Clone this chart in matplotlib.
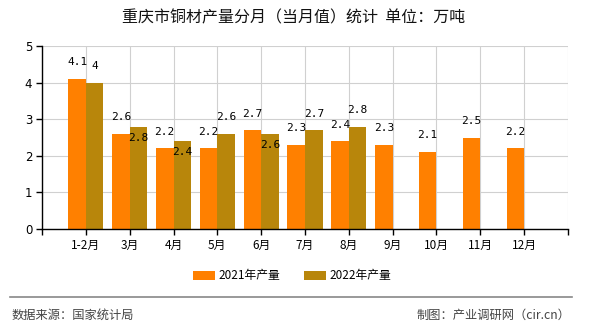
import matplotlib.pyplot as plt
import numpy as np

plt.rcParams['font.family'] = ['Noto Sans CJK SC', 'DejaVu Sans']

months = ["1-2月", "3月", "4月", "5月", "6月", "7月", "8月", "9月", "10月", "11月", "12月"]
prod_2021 = [4.1, 2.6, 2.2, 2.2, 2.7, 2.3, 2.4, 2.3, 2.1, 2.5, 2.2]
prod_2022 = [4, 2.8, 2.4, 2.6, 2.6, 2.7, 2.8]

c21 = "#ff8000"
c22 = "#b8860b"
w = 0.4

fig = plt.figure(figsize=(5.9, 3.3), dpi=100)
ax = fig.add_axes([0.0712, 0.306, 0.8915, 0.5546])

x = np.arange(len(months))
x22 = np.arange(len(prod_2022))
ax.bar(x - w / 2, prod_2021, width=w, color=c21, label="2021年产量", zorder=2)
ax.bar(x22 + w / 2, prod_2022, width=w, color=c22, label="2022年产量", zorder=2)

mono = dict(family="DejaVu Sans Mono", fontsize=8, ha="center", va="center", zorder=3)
for i, v in enumerate(prod_2021):
    ax.annotate(f"{v:g}", (i - w / 2, v), xytext=(0, 12), textcoords="offset points", **mono)
for i, v in enumerate(prod_2022):
    below = abs(v - prod_2021[i]) < 0.3 and len(f"{v:g}") > 1
    ax.annotate(f"{v:g}", (i + w / 2, v), xytext=(0, -8 if below else 12),
                textcoords="offset points", **mono)

ax.set_xlim(-1, 11)
ax.set_ylim(0, 5)
ax.set_xticks(np.arange(-1, 12))
ax.set_xticklabels([""] + months + [""], fontsize=8.5)
ax.set_yticks(range(6))
ax.set_yticklabels([str(i) for i in range(6)], fontsize=8.5, family="DejaVu Sans")
ax.grid(True, color="#d0d0d0", linewidth=0.8, zorder=0)
for s in ["top", "right"]:
    ax.spines[s].set_visible(False)
for s in ["left", "bottom"]:
    ax.spines[s].set_color("black")
    ax.spines[s].set_linewidth(1)
ax.tick_params(axis="both", length=4, width=1, color="black", pad=3)

fig.text(0.498, 0.947, "重庆市铜材产量分月（当月值）统计  单位：万吨", ha="center", va="center",
         fontsize=11.5, color="#111111")

fig.legend(loc="center", bbox_to_anchor=(0.495, 0.164), ncol=2, frameon=False, fontsize=8.5,
           handlelength=1.9, handleheight=0.8, columnspacing=2.0, handletextpad=0.3)

fig.add_artist(plt.Line2D([0.017, 0.969], [1 - 297 / 330] * 2, color="#888888", linewidth=1.2))
fig.text(0.02, 1 - 315 / 330, "数据来源：国家统计局", ha="left", va="center", fontsize=8.8, color="#444444")
fig.text(0.966, 1 - 315 / 330, "制图：产业调研网（cir.cn）", ha="right", va="center", fontsize=8.8, color="#444444")

fig.savefig("out.png", dpi=100)
